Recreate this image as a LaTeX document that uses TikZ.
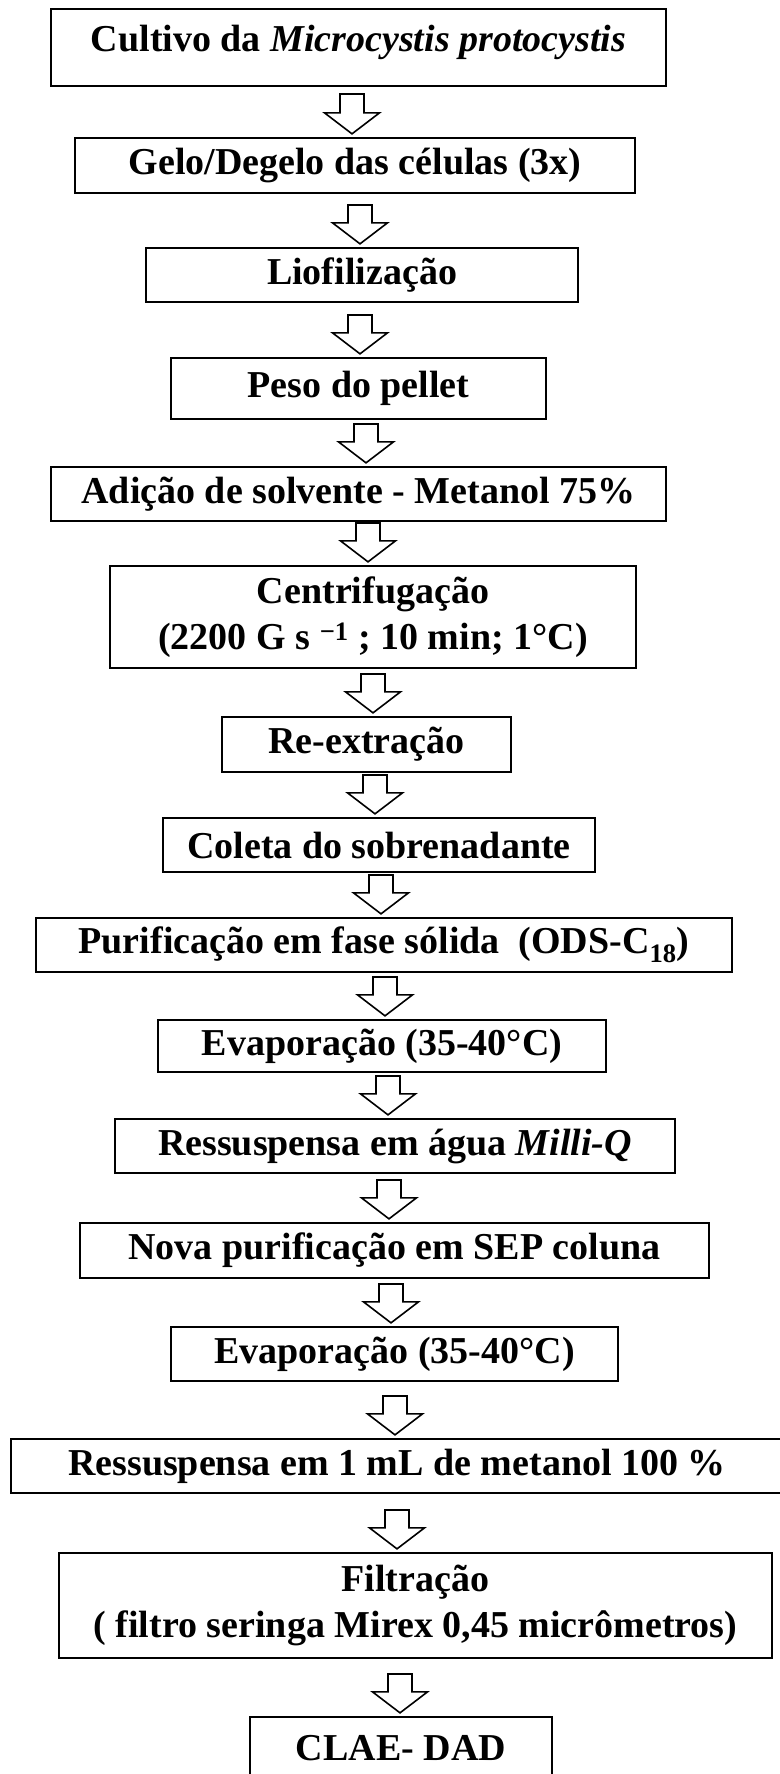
\documentclass[tikz,border=0pt]{standalone}
\usepackage{fontspec}
\setmainfont{Liberation Serif}
\usetikzlibrary{calc}

\tikzset{
  stepbox/.style={draw, line width=2.3pt, inner sep=0pt, align=center,
    font=\bfseries\fontsize{38}{46}\selectfont},
  blockarrow/.style={line width=1.6pt, line join=miter, to path={
    let \p1=(\tikztostart), \p2=(\tikztotarget.north) in
    (\x1-12pt,\y1) -- (\x1+12pt,\y1) -- (\x1+12pt,\y2+24pt) -- (\x1+27.5pt,\y2+24pt)
    -- (\x1,\y2+3pt) -- (\x1-27.5pt,\y2+24pt) -- (\x1-12pt,\y2+24pt) -- cycle}}
}

\begin{document}
\begin{tikzpicture}[x=1pt,y=-1pt]
\useasboundingbox (0,0) rectangle (779,1774);

\node[stepbox, minimum width=615, minimum height=77, text depth=18pt] (b1) at (358.5,47.5) {Cultivo da \textit{Microcystis protocystis}};
\node[stepbox, minimum width=560, minimum height=55] (b2) at (355,165.5) {Gelo/Degelo das células (3x)};
\node[stepbox, minimum width=432, minimum height=54] (b3) at (362,275) {Liofilização};
\node[stepbox, minimum width=375, minimum height=61] (b4) at (358.5,388.5) {Peso do pellet};
\node[stepbox, minimum width=615, minimum height=54] (b5) at (358.5,494) {Adição de solvente - Metanol 75\%};
\node[stepbox, minimum width=526, minimum height=102] (b6) at (373,617) {Centrifugação\\(2200 G s \textsuperscript{−1} ; 10 min; 1°C)};
\node[stepbox, minimum width=289, minimum height=55] (b7) at (366.5,744.5) {Re-extração};
\node[stepbox, minimum width=432, minimum height=54] (b8) at (379,845) {Coleta do sobrenadante};
\node[stepbox, minimum width=696, minimum height=54] (b9) at (384,945) {Purificação em fase sólida \ (ODS-C\textsubscript{18})};
\node[stepbox, minimum width=448, minimum height=52] (b10) at (382,1046) {Evaporação (35-40°C)};
\node[stepbox, minimum width=560, minimum height=54] (b11) at (395,1146) {Ressuspensa em água \textit{Milli-Q}};
\node[stepbox, minimum width=629, minimum height=55] (b12) at (394.5,1250.5) {Nova purificação em SEP coluna};
\node[stepbox, minimum width=447, minimum height=54] (b13) at (394.5,1354) {Evaporação (35-40°C)};
\node[stepbox, minimum width=772, minimum height=54] (b14) at (397,1466) {Ressuspensa em 1 mL de metanol 100 \%};
\node[stepbox, minimum width=713, minimum height=105] (b15) at (415.5,1605.5) {Filtração\\ ( filtro seringa Mirex 0,45 micrômetros)};
\node[stepbox, minimum width=302, minimum height=62] (b16) at (401,1748) {CLAE- DAD};

\coordinate (a1) at (352,94);
\coordinate (a2) at (360,205);
\coordinate (a3) at (360,315);
\coordinate (a4) at (366,424);
\coordinate (a5) at (368,523);
\coordinate (a6) at (373,674);
\coordinate (a7) at (375,775);
\coordinate (a8) at (381,875);
\coordinate (a9) at (385,977);
\coordinate (a10) at (388,1076);
\coordinate (a11) at (389,1180);
\coordinate (a12) at (391,1284);
\coordinate (a13) at (395,1396);
\coordinate (a14) at (397,1510);
\coordinate (a15) at (400,1674);

\path[draw,blockarrow] (a1) to (b2);
\path[draw,blockarrow] (a2) to (b3);
\path[draw,blockarrow] (a3) to (b4);
\path[draw,blockarrow] (a4) to (b5);
\path[draw,blockarrow] (a5) to (b6);
\path[draw,blockarrow] (a6) to (b7);
\path[draw,blockarrow] (a7) to (b8);
\path[draw,blockarrow] (a8) to (b9);
\path[draw,blockarrow] (a9) to (b10);
\path[draw,blockarrow] (a10) to (b11);
\path[draw,blockarrow] (a11) to (b12);
\path[draw,blockarrow] (a12) to (b13);
\path[draw,blockarrow] (a13) to (b14);
\path[draw,blockarrow] (a14) to (b15);
\path[draw,blockarrow] (a15) to (b16);
\end{tikzpicture}
\end{document}
